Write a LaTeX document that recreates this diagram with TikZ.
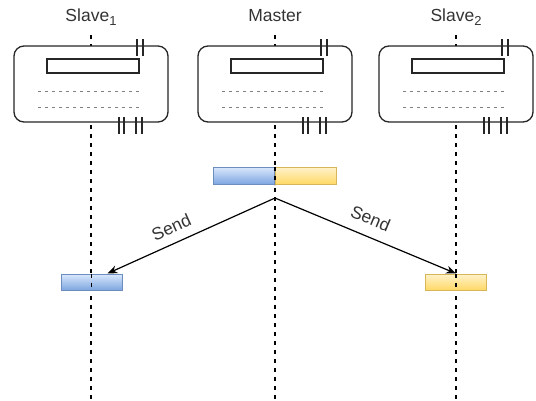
\documentclass[tikz,border=0pt]{standalone}
\usepackage{fontspec}
\setmainfont{Liberation Sans}
\usepackage{xcolor}
\usetikzlibrary{calc}
\usetikzlibrary{positioning}
\usetikzlibrary{arrows.meta}

\definecolor{textgray}{RGB}{51,51,51}
\definecolor{bluefill}{HTML}{DAE8FC}
\definecolor{bluedark}{HTML}{7EA6E0}
\definecolor{blueline}{HTML}{6C8EBF}
\definecolor{yellowfill}{HTML}{FFF2CC}
\definecolor{yellowdark}{HTML}{FFD966}
\definecolor{yellowline}{HTML}{D6B656}

% lowered index after a participant name
\newcommand{\idx}[1]{\raisebox{-4.5pt}{\fontsize{13}{13}\selectfont #1}}

\begin{document}
\begin{tikzpicture}[x=1pt, y=-1pt]

        \def\w{154pt}
        \def\h{76pt}

        % Looks of the labels, the units, the lifelines and the data bars
        \tikzset{
            lbl/.style={text=textgray, font=\fontsize{17.5}{20}\selectfont,
                inner sep=0pt, anchor=base},
            sendlbl/.style={text=textgray, font=\fontsize{17.5}{20}\selectfont,
                sloped, inner sep=0pt},
            unit/.style={draw=black!85, line width=1.3pt, rounded corners=10pt,
                fill=white, minimum width=\w, minimum height=\h, inner sep=0pt},
            field/.style={draw=black!85, line width=1.3pt},
            rows/.style={draw=black!50, line width=0.8pt,
                dash pattern=on 3pt off 4pt},
            tick/.style={draw=black!85, line width=1.3pt},
            life/.style={line width=1.2pt, dash pattern=on 4pt off 5pt},
            bar/.style={line width=1pt, minimum width=61pt,
                minimum height=16pt, inner sep=0pt},
            bluebar/.style={bar, draw=blueline, top color=bluefill,
                bottom color=bluedark},
            yellowbar/.style={bar, draw=yellowline, top color=yellowfill,
                bottom color=yellowdark},
            msg/.style={line width=1.2pt, -{Stealth[length=10pt, width=8pt]}}
        }

        \useasboundingbox (0,0) rectangle (536,400);

        % Participants
        \node[lbl] (S1lab) at (91,21) {Slave\idx{1}};
        \node[lbl] (Mlab) at (275,21) {Master};
        \node[lbl] (S2lab) at (456,21) {Slave\idx{2}};

        \coordinate (S1t) at (91,35);
        \coordinate (Mt) at (275,35);
        \coordinate (S2t) at (456,35);
        \coordinate (S1e) at (91,400);
        \coordinate (Me) at (275,400);
        \coordinate (S2e) at (456,400);

        % Lifelines first, the units hide them where they cross
        \begin{scope}[life]
            \foreach \n in {S1, M, S2}
            \draw (\n t) -- (\n e);
        \end{scope}

        \node[unit] (S1) at (91,84) {};
        \node[unit] (M) at (275,84) {};
        \node[unit] (S2) at (456,84) {};

        % Inside of each unit: one field, two empty rows, the bus marks
        \foreach \n in {S1, M, S2} {
            \begin{scope}[shift={(\n.center)}]
                \draw[field] (-44,-25) rectangle (48,-11);
                \draw[rows] (-53,7) -- (51,7);
                \draw[rows] (-53,23) -- (51,23);
                \foreach \x in {46,52}
                \draw[tick] (\x,-45) -- (\x,-28);
                \foreach \x in {28,33,45,51}
                \draw[tick] (\x,33) -- (\x,50);
            \end{scope}
        }

        % Data held by the master, and the parts each slave receives
        \node[bluebar, minimum height=17pt, anchor=east] (Mb) at (275,175.5) {};
        \node[yellowbar, minimum height=17pt] (My) [right=0pt of Mb] {};
        \node[bluebar] (S1bar) at (91.5,282) {};
        \node[yellowbar] (S2bar) at (456,282) {};

        % The lifelines stay visible over the bars
        \begin{scope}[life]
            \draw (Mb.north east) -- (Mb.south east);
            \draw (S1bar.north) -- (S1bar.south);
            \draw (S2bar.north) -- (S2bar.south);
        \end{scope}

        \coordinate (Msend) at (275,198);

        \draw[msg] (Msend) -- ($(S1bar.north)+(16,0)$)
            node[sendlbl, pos=0.58, above=9pt] {Send};
        \draw[msg] (Msend) -- (S2bar.north)
            node[sendlbl, pos=0.49, above=11pt] {Send};

\end{tikzpicture}
\end{document}
